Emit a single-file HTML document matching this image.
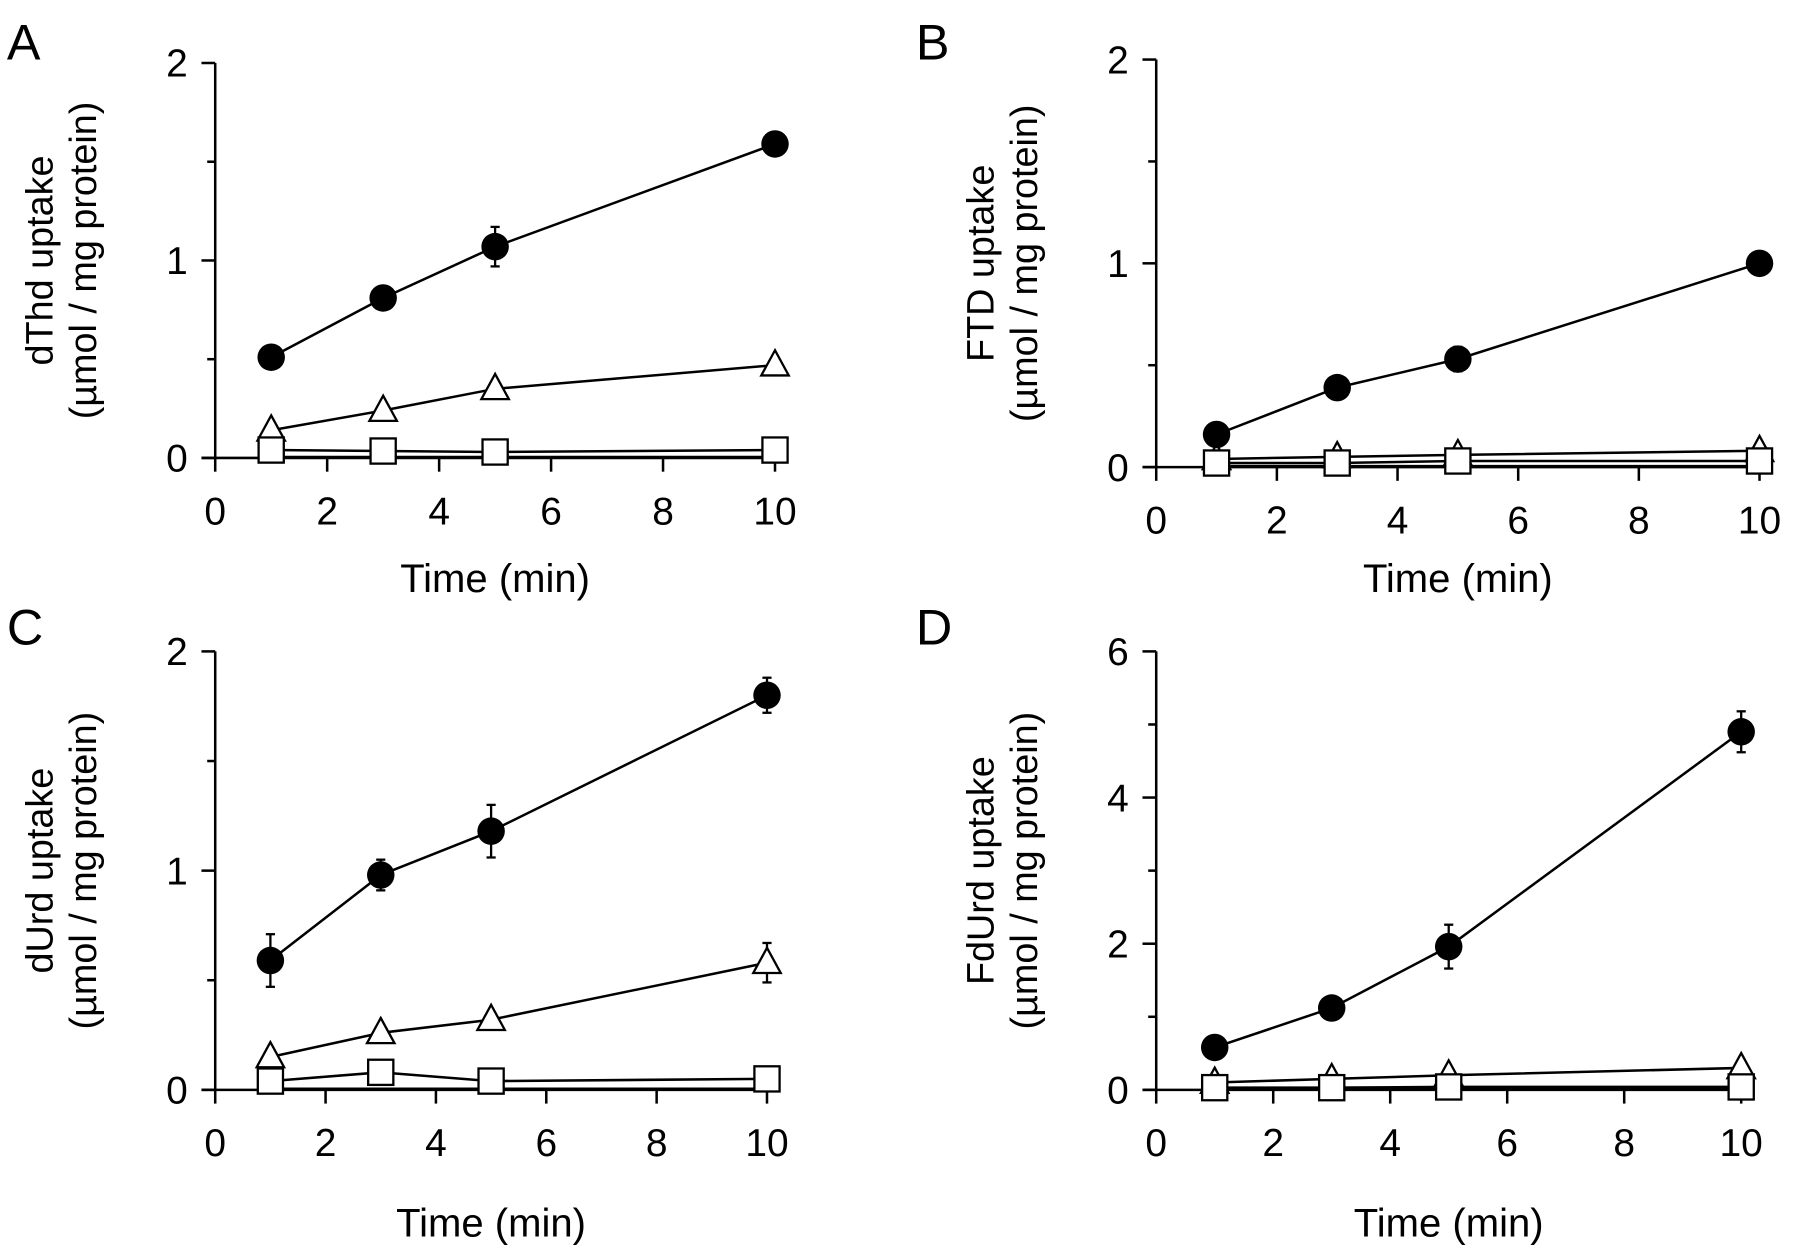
<!DOCTYPE html>
<html><head><meta charset="utf-8"><style>
html,body{margin:0;padding:0;background:#fff}
svg{display:block}
text{font-family:"Liberation Sans",Arial,sans-serif;fill:#000}
</style></head><body>
<svg id="fig" width="1795" height="1260" viewBox="0 0 1568 1100.6" xmlns="http://www.w3.org/2000/svg"></svg>
<script>
const times = [1, 3, 5, 10];
const xTicks = [0, 2, 4, 6, 8, 10];
const panelLabels = ['A', 'B', 'C', 'D'];
const yTitles1 = ['dThd  uptake', 'FTD uptake', 'dUrd uptake', 'FdUrd uptake'];
const yTickLabels = [[0, 1, 2], [0, 1, 2], [0, 1, 2], [0, 2, 4, 6]];
const yMinorTicks = [[0.5, 1.5], [0.5, 1.5], [0.5, 1.5], [1, 3, 5]];
const yMax = [2, 2, 2, 6];
const filledA = [0.51, 0.81, 1.07, 1.59];
const filledAErr = [0.02, 0.02, 0.10, 0.02];
const triA = [0.14, 0.24, 0.35, 0.47];
const sqA = [0.04, 0.035, 0.03, 0.04];
const baseA = [0.005, 0.005, 0.005, 0.005];
const filledB = [0.16, 0.39, 0.53, 1.0];
const filledBErr = [0.02, 0.02, 0.06, 0.02];
const triB = [0.04, 0.05, 0.06, 0.08];
const sqB = [0.02, 0.02, 0.03, 0.03];
const baseB = [0.005, 0.005, 0.005, 0.005];
const filledC = [0.59, 0.98, 1.18, 1.80];
const filledCErr = [0.12, 0.07, 0.12, 0.08];
const triC = [0.15, 0.26, 0.32, 0.58];
const triCErr = [0.02, 0.02, 0.03, 0.09];
const sqC = [0.04, 0.08, 0.04, 0.05];
const baseC = [0.005, 0.005, 0.005, 0.005];
const filledD = [0.58, 1.12, 1.96, 4.90];
const filledDErr = [0.05, 0.05, 0.30, 0.28];
const triD = [0.10, 0.15, 0.20, 0.30];
const sqD = [0.03, 0.03, 0.04, 0.04];
const baseD = [0.01, 0.01, 0.01, 0.01];

const panels = [
 {x0:188,x1:677,y0:400,y1:55, lx:6,ly:52, tx:505, f:filledA,fe:filledAErr,t:triA,te:null,s:sqA,b:baseA},
 {x0:1010,x1:1537,y0:408,y1:52, lx:800,ly:52, tx:505, f:filledB,fe:filledBErr,t:triB,te:null,s:sqB,b:baseB},
 {x0:188,x1:670,y0:952,y1:569, lx:6,ly:563, tx:1068, f:filledC,fe:filledCErr,t:triC,te:triCErr,s:sqC,b:baseC},
 {x0:1010,x1:1521,y0:952,y1:569, lx:800,ly:563, tx:1068, f:filledD,fe:filledDErr,t:triD,te:null,s:sqD,b:baseD}
];
const NS='http://www.w3.org/2000/svg';
const svg=document.getElementById('fig');
function el(tag,attrs,parent){const e=document.createElementNS(NS,tag);for(const k in attrs)e.setAttribute(k,attrs[k]);(parent||svg).appendChild(e);return e;}
panels.forEach((p,i)=>{
 const g=el('g',{});
 
 
 const xs=v=>p.x0+(p.x1-p.x0)*v/10;
 const ys=v=>p.y0-(p.y0-p.y1)*v/yMax[i];
 const L=el('text',{x:p.lx,y:p.ly,'font-size':44},g);L.textContent=panelLabels[i];
 
 const ya=el('line',{x1:p.x0,y1:p.y1,x2:p.x0,y2:p.y0,stroke:'#000','stroke-width':2.2},g);
 
 const xa=el('line',{x1:p.x0-12,y1:p.y0,x2:p.x1,y2:p.y0,stroke:'#000','stroke-width':2.2},g);
 
 yTickLabels[i].forEach(v=>{
  el('line',{x1:p.x0-12,y1:ys(v),x2:p.x0,y2:ys(v),stroke:'#000','stroke-width':2.2},g);
  const t=el('text',{x:p.x0-24,y:ys(v)+12,'font-size':34,'text-anchor':'end'},g);t.textContent=v;
  
 });
 yMinorTicks[i].forEach(v=>el('line',{x1:p.x0-7,y1:ys(v),x2:p.x0,y2:ys(v),stroke:'#000','stroke-width':2.2},g));
 xTicks.forEach(v=>{
  el('line',{x1:xs(v),y1:p.y0,x2:xs(v),y2:p.y0+12,stroke:'#000','stroke-width':2.2},g);
  const t=el('text',{x:xs(v),y:p.y0+58,'font-size':34,'text-anchor':'middle'},g);t.textContent=v;
  
 });
 const xt=el('text',{x:(p.x0+p.x1)/2,y:p.tx+12,'font-size':35,'text-anchor':'middle'},g);xt.textContent='Time (min)';
 
 const cy=(p.y0+p.y1)/2;
 const t1=el('text',{x:0,y:0,'font-size':33,'text-anchor':'middle',transform:`translate(${p.x0-142},${cy}) rotate(-90)`},g);t1.textContent=yTitles1[i];
 
 const t2=el('text',{x:0,y:0,'font-size':33,'text-anchor':'middle',transform:`translate(${p.x0-104},${cy}) rotate(-90)`},g);t2.textContent='(µmol / mg protein)';
 
 function line(vals,name){const pl=el('polyline',{points:times.map((t,j)=>xs(t)+','+ys(vals[j])).join(' '),fill:'none',stroke:'#000','stroke-width':2.2},g);
  }
 function err(vals,e){times.forEach((t,j)=>{if(!e||e[j]<0.03)return;const x=xs(t),a=ys(vals[j]+e[j]),b=ys(vals[j]-e[j]);
  el('line',{x1:x,y1:a,x2:x,y2:b,stroke:'#000','stroke-width':2},g);
  el('line',{x1:x-4,y1:a,x2:x+4,y2:a,stroke:'#000','stroke-width':2},g);
  el('line',{x1:x-4,y1:b,x2:x+4,y2:b,stroke:'#000','stroke-width':2},g);});}
 line(p.b,'baseline-series-line');
 line(p.s,'square-series-line');
 line(p.t,'triangle-series-line');
 line(p.f,'filled-circle-series-line');
 err(p.f,p.fe);err(p.t,p.te);
 times.forEach((t,j)=>{
  const x=xs(t),y=ys(p.t[j]);
  const tr=el('polygon',{points:`${x},${y-13} ${x-12},${y+9} ${x+12},${y+9}`,fill:'#fff',stroke:'#000','stroke-width':2},g);
  
 });
 times.forEach((t,j)=>{
  const x=xs(t),y=ys(p.s[j]);
  const r=el('rect',{x:x-11,y:y-11,width:22,height:22,fill:'#fff',stroke:'#000','stroke-width':2},g);
  
 });
 times.forEach((t,j)=>{
  const c=el('circle',{cx:xs(t),cy:ys(p.f[j]),r:12,fill:'#000'},g);
  
 });
});
</script>
</body></html>
